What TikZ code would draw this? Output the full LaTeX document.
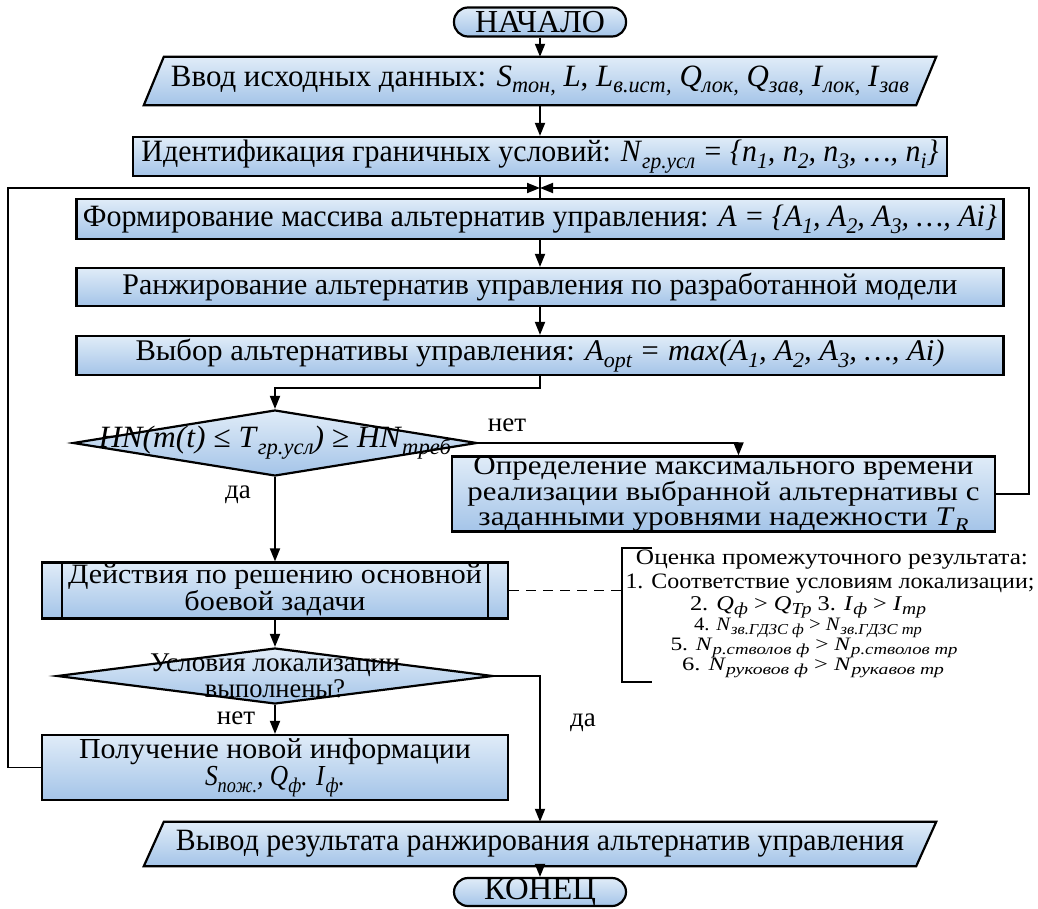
\documentclass[tikz,border=0pt]{standalone}
\usepackage{fontspec}
\setmainfont{Liberation Serif}
\usepackage{graphicx}
\usetikzlibrary{arrows.meta,shapes.geometric,calc,backgrounds}
\definecolor{boxtop}{HTML}{E0ECF8}
\definecolor{boxbot}{HTML}{A4C4E8}
\newcommand{\fsz}[2]{\fontsize{#1}{#2}\selectfont}
\newcommand{\fitw}[2]{\resizebox{#1pt}{\height}{#2}}
\newcommand{\sbi}[1]{\raisebox{-0.22em}{\scalebox{0.72}{\itshape #1}}}
\newcommand{\sbc}[1]{\raisebox{-0.18em}{\scalebox{0.8}{\itshape #1}}}
\begin{document}
\begin{tikzpicture}[x=1pt,y=-1pt,
  >={Triangle[length=13pt,width=10pt]},
  conn/.style={line width=1.8pt},
  shd/.style={top color=boxtop,bottom color=boxbot},
  procbox/.style={shd,draw,line width=2.2pt,rectangle,inner sep=0pt,align=center},
  termbox/.style={procbox,rounded corners=14pt},
  iobox/.style={rectangle,inner sep=0pt,align=center},
  iofill/.style={shd,draw,line width=2.2pt},
  decbox/.style={shd,draw,line width=2.2pt,diamond,inner sep=0pt},
  txt/.style={inner sep=0pt,align=center},
  lbl/.style={inner sep=0pt,font=\fsz{27}{27}}
]
\useasboundingbox (0,0) rectangle (1038,909);

% start
\node[termbox,minimum width=172pt,minimum height=29pt] (start) at (540,22) {\fsz{32}{32}\fitw{130}{НАЧАЛО}};

% input
\node[iobox,minimum width=792pt,minimum height=48pt] (in) at (540,81)
 {\fsz{31}{31}\fitw{738}{Ввод исходных данных: \textit{S}\sbi{тон,} \textit{L}, \textit{L}\sbi{в.ист,} \textit{Q}\sbi{лок,} \textit{Q}\sbi{зав,} \textit{I}\sbi{лок,} \textit{I}\sbi{зав}}};
\begin{pgfonlayer}{background}
\path[iofill] ([xshift=20pt]in.north west) -- (in.north east) -- ([xshift=-20pt]in.south east) -- (in.south west) -- cycle;
\end{pgfonlayer}

\node[procbox,minimum width=814pt,minimum height=39pt] (ident) at (540,156.5)
 {\fsz{31}{31}\fitw{797}{Идентификация граничных условий: \textit{N}\sbi{гр.усл} \textit{= \{n}\sbi{1}\textit{, n}\sbi{2}\textit{, n}\sbi{3}\textit{, …, n}\sbi{i}\textit{\}}}};

\coordinate (merge) at (540,188);

\node[procbox,minimum width=927pt,minimum height=40pt] (form) at (540,219)
 {\fsz{31}{31}\fitw{914}{Формирование массива альтернатив управления: \textit{A = \{A}\sbi{1}\textit{, A}\sbi{2}\textit{, A}\sbi{3}\textit{, …, Ai\}}}};

\node[procbox,minimum width=927pt,minimum height=38pt] (rank) at (540,287)
 {\fsz{30}{30}\fitw{835}{Ранжирование альтернатив управления по разработанной модели}};

\node[procbox,minimum width=927pt,minimum height=39pt] (select) at (540,355.5)
 {\fsz{30}{30}\fitw{809}{Выбор альтернативы управления: \textit{A}\sbi{opt} \textit{= max(A}\sbi{1}\textit{, A}\sbi{2}\textit{, A}\sbi{3}\textit{, …, Ai)}}};

% decision 1
\node[decbox,minimum width=404pt,minimum height=66pt] (dec1) at (275,443) {};
\node[txt] (dec1t) at (dec1.center) {\fsz{31}{31}\fitw{352}{\textit{HN(m(t) ≤ T}\sbi{гр.усл}\textit{) ≥ HN}\sbi{треб}}};

\node[procbox,minimum width=543pt,minimum height=75pt,font=\fsz{27}{24.5}] (det) at (723.5,494)
 {\fitw{500}{Определение максимального времени}\\\fitw{512}{реализации выбранной альтернативы с}\\\fitw{490}{заданными уровнями надежности \textit{T}\sbi{R}}};

% action (predefined process)
\node[procbox,minimum width=466pt,minimum height=56pt,font=\fsz{28}{22}] (act) at (275,590.5)
 {\fitw{414}{Действия по решению основной}\\\fitw{181}{боевой задачи}};
\draw[line width=2pt] ([xshift=21pt]act.north west) -- ([xshift=21pt]act.south west);
\draw[line width=2pt] ([xshift=-21pt]act.north east) -- ([xshift=-21pt]act.south east);

% comment
\coordinate (br) at (622,590.5);
\draw[conn,dash pattern=on 10pt off 7pt] (act.east) -- (br);
\draw[conn] (652,548) -- (622,548) -- (622,682) -- (652,682);
\node[txt,font=\fsz{22}{22}] (cm1) at (832,560) {\fitw{392}{Оценка промежуточного результата:}};
\node[txt,font=\fsz{22}{22}] (cm2) at (830,584) {\fitw{409}{1. Соответствие условиям локализации;}};
\node[txt,font=\fsz{21}{21}] (cm3) at (808,607) {\fitw{236}{2. \textit{Q}\sbc{ф} > \textit{Q}\sbc{Тр} 3. \textit{I}\sbc{ф} > \textit{I}\sbc{тр}}};
\node[txt,font=\fsz{19}{19}] (cm4) at (808,628) {\fitw{228}{4. \textit{N}\sbc{зв.ГДЗС ф} > \textit{N}\sbc{зв.ГДЗС тр}}};
\node[txt,font=\fsz{19}{19}] (cm5) at (814,648) {\fitw{287}{5. \textit{N}\sbc{р.стволов ф} > \textit{N}\sbc{р.стволов тр}}};
\node[txt,font=\fsz{19}{19}] (cm6) at (813,668) {\fitw{262}{6. \textit{N}\sbc{руковов ф} > \textit{N}\sbc{рукавов тр}}};

% decision 2
\node[decbox,minimum width=436pt,minimum height=56pt] (dec2) at (275,676) {};
\node[txt,font=\fsz{27}{26}] (dec2t) at (dec2.center) {\fitw{250}{Условия локализации}\\\fitw{140}{выполнены?}};

\node[procbox,minimum width=466pt,minimum height=65pt,font=\fsz{29}{27}] (get) at (275,767.5)
 {\fitw{392}{Получение новой информации}\\\fitw{140}{\textit{S}\sbi{пож.}\textit{, Q}\sbi{ф}\textit{. I}\sbi{ф}\textit{.}}};

% output
\node[iobox,minimum width=792pt,minimum height=44pt] (out) at (540,844)
 {\fsz{31}{31}\fitw{728}{Вывод результата ранжирования альтернатив управления}};
\begin{pgfonlayer}{background}
\path[iofill] ([xshift=20pt]out.north west) -- (out.north east) -- ([xshift=-20pt]out.south east) -- (out.south west) -- cycle;
\end{pgfonlayer}

\node[termbox,minimum width=172pt,minimum height=28pt] (end) at (540,892) {\fsz{32}{32}\fitw{112}{КОНЕЦ}};

% labels
\node[lbl] (no1) at (507,425) {нет};
\node[lbl] (yes1) at (238,495) {да};
\node[lbl] (no2) at (236,718) {нет};
\node[lbl] (yes2) at (583,723) {да};

% connectors
\draw[conn,->] (start) -- (in);
\draw[conn,->] (in) -- (ident);
\draw[conn] (ident) -- (form);
\draw[conn,->] (form) -- (rank);
\draw[conn,->] (rank) -- (select);
\draw[conn,->] (select.south) -- ++(0,12) -| (dec1.north);
\draw[conn,->] (dec1.east) -| ($(det.north)+(15,0)$);
\draw[conn,->] (det.east) -- ++(32.5,0) |- (merge);
\draw[conn,->] (dec1.south) -- (act.north);
\draw[conn,->] (act.south) -- (dec2.north);
\draw[conn,->] (dec2.south) -- (get.north);
\draw[conn,->] (get.west) -- ++(-33,0) |- (merge);
\draw[conn,->] (dec2.east) -| (out.north);
\draw[conn,->] (out) -- (end);
\end{tikzpicture}
\end{document}
